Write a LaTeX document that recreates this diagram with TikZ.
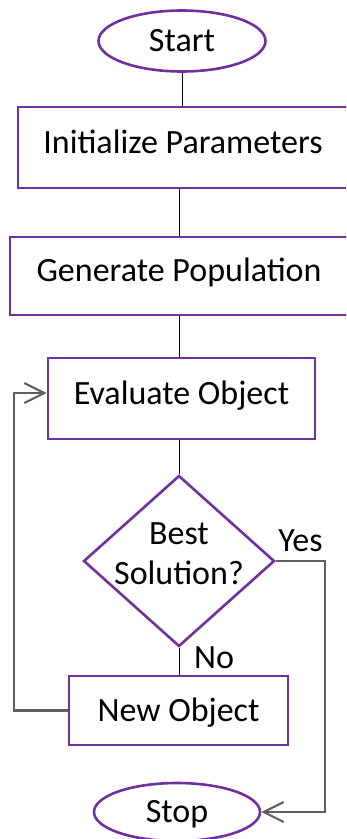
\documentclass[tikz,border=0pt]{standalone}
\usepackage{fontspec}
\setmainfont{Carlito}
\usetikzlibrary{shapes.geometric,arrows.meta}
\definecolor{flowpurple}{RGB}{112,48,160}
\definecolor{backgray}{RGB}{95,95,95}

\begin{document}
\begin{tikzpicture}[x=1pt,y=-1pt,
  every node/.style={font=\fontsize{34}{40}\selectfont, inner sep=0pt},
  procbox/.style={rectangle, draw=flowpurple, line width=2.6pt, text height=23pt, text depth=11.5pt},
  termbox/.style={ellipse, draw=flowpurple, line width=2.6pt, text height=23pt, text depth=1.5pt},
  link/.style={line width=0.9pt},
  back/.style={draw=backgray, line width=2.1pt, -{Straight Barb[length=20pt,width=20pt,line width=2.1pt]}}]
\useasboundingbox (0,0) rectangle (346,839);
\clip (0,0) rectangle (346,839);

\node[termbox, minimum width=167pt, minimum height=61pt] (start) at (182,41) {Start};
\node[procbox, minimum width=330pt, minimum height=81pt] (init) at (183,147.5) {Initialize Parameters};
\node[procbox, minimum width=338pt, minimum height=78pt] (gen) at (179,276) {Generate Population};
\node[procbox, minimum width=267pt, minimum height=81pt] (eval) at (181.5,398.5) {Evaluate Object};
\node[diamond, draw=flowpurple, line width=2.6pt, minimum width=191pt, minimum height=171pt] (dec) at (179,561) {};
\node[align=center] (dectext) at (179,554) {Best\\Solution?};
\node[procbox, text depth=1.5pt, minimum width=219pt, minimum height=69pt] (newobj) at (178.5,710.5) {New Object};
\node[termbox, minimum width=166pt, minimum height=58pt] (stop) at (177,812) {Stop};
\node (yes) at (300.5,541) {Yes};
\node (no) at (214,657.5) {No};

% main line
\draw[link] (start.south) -- (start.south |- init.north);
\draw[link] (gen.north |- init.south) -- (gen.north);
\draw[link] (gen.south) -- (gen.south |- eval.north);
\draw[link] (dec.north |- eval.south) -- (dec.north);
\draw[link] (dec.south) -- (dec.south |- newobj.north);

% yes / no branches
\coordinate (yesturn) at (325,561);
\coordinate (noturn) at (14,393);
\draw[back] (dec.east) -- (yesturn) |- (stop.east);
\draw[back] (newobj.west) -| (noturn) -- (noturn -| eval.west);
\end{tikzpicture}
\end{document}
